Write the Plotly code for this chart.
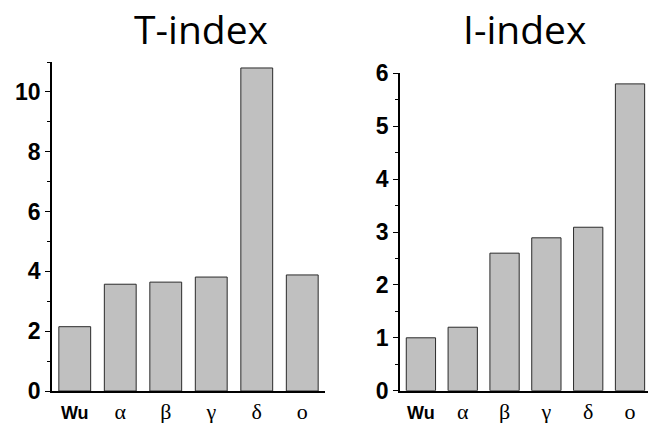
import plotly.graph_objects as go

categories = ["Wu", "α", "β", "γ", "δ", "ο"]
t_index = [2.15, 3.57, 3.64, 3.81, 10.8, 3.88]
i_index = [1.0, 1.2, 2.6, 2.89, 3.09, 5.8]
titles = ["T-index", "I-index"]

SANS = "Liberation Sans, Arial"
SERIF = "Liberation Serif, Times New Roman"

def ticktext(cats):
    out = []
    for c in cats:
        if c == "Wu":
            out.append(f"<span style='font-family:{SANS};font-size:18px;font-weight:bold'><b>{c}</b></span>")
        else:
            out.append(c)
    return out

fig = go.Figure()
bar_style = dict(marker=dict(color="#c0c0c0", line=dict(color="#2a2a2a", width=1)), showlegend=False)
fig.add_trace(go.Bar(x=list(range(len(categories))), y=t_index, xaxis="x", yaxis="y", **bar_style))
fig.add_trace(go.Bar(x=list(range(len(categories))), y=i_index, xaxis="x2", yaxis="y2", **bar_style))

H = 423.0
W = 648.0
xcommon = dict(
    tickmode="array", tickvals=list(range(len(categories))), ticktext=ticktext(categories),
    tickfont=dict(family=SERIF, size=22, color="black"), ticks="",
    showline=True, linecolor="black", linewidth=1.6, showgrid=False, zeroline=False,
    automargin=False, fixedrange=True,
)
ycommon = dict(
    showline=True, linecolor="black", linewidth=1.6, showgrid=False, zeroline=False,
    ticks="outside", ticklen=5, tickwidth=1.3, tickcolor="black",
    tickfont=dict(family=SANS, size=23, color="black", weight="bold"),
    automargin=False, fixedrange=True,
)
fig.update_layout(
    width=648, height=423,
    margin=dict(l=0, r=0, t=0, b=0, autoexpand=False),
    paper_bgcolor="white", plot_bgcolor="white",
    bargap=0.3,
    xaxis=dict(domain=[52 / W, 325 / W], range=[-0.5, 5.5], anchor="y", **xcommon),
    yaxis=dict(domain=[1 - 391 / H, 1 - 62 / H], range=[0, 11], dtick=2, anchor="x",
               minor=dict(dtick=1, ticks="outside", ticklen=3, tickwidth=1.3, tickcolor="black"),
               **ycommon),
    xaxis2=dict(domain=[400 / W, 1.0], range=[-0.5, 5.43], anchor="y2", **xcommon),
    yaxis2=dict(domain=[1 - 390.7 / H, 1 - 73.3 / H], range=[0, 6], dtick=1, anchor="x2",
                minor=dict(dtick=0.5, ticks="outside", ticklen=3, tickwidth=1.3, tickcolor="black"),
                **ycommon),
    annotations=[
        dict(text=titles[0], x=200.5 / W, y=1 - 29 / H, xref="paper", yref="paper",
             xanchor="center", yanchor="middle", showarrow=False,
             font=dict(family="Open Sans", size=39, color="black")),
        dict(text=titles[1], x=524.5 / W, y=1 - 29 / H, xref="paper", yref="paper",
             xanchor="center", yanchor="middle", showarrow=False,
             font=dict(family="Open Sans", size=39, color="black")),
    ],
)
fig.write_html("out.html", config={"displayModeBar": False},
               post_script="document.body.style.margin='0';document.body.style.overflow='hidden';")
